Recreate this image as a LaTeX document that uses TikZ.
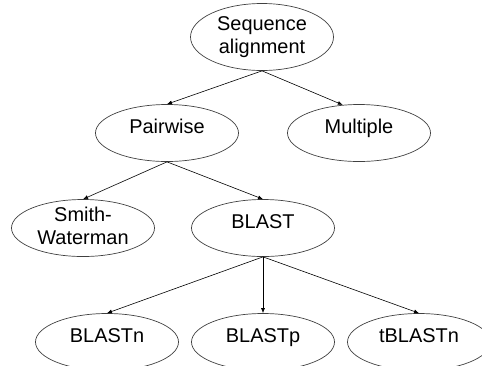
\documentclass[tikz,border=0pt]{standalone}
\usepackage{fontspec}
\setmainfont{Liberation Sans}
\usetikzlibrary{shapes.geometric,arrows.meta}
\tikzset{
  topic/.style={ellipse,draw=black!75,line width=0.7pt,minimum width=143bp,minimum height=57bp,
    inner sep=0pt,align=center,text height=1ex,text depth=1ex,
    font=\fontsize{20}{23}\selectfont},
  twoline/.style={text height=32bp,text depth=-26bp},
  link/.style={-{Latex[length=5pt,width=4pt]},line width=0.6pt}
}
\begin{document}
\begin{tikzpicture}[x=1bp,y=-1bp]
    \useasboundingbox (0,0) rectangle (482,365);
    \clip (0,0) rectangle (482,365);

    % ellipses
    \node[topic,twoline,minimum height=67bp] (seq) at (262,37) {Sequence\\alignment};
    \node[topic] (pair) at (167,133) {Pairwise};
    \node[topic] (mult) at (359,133) {Multiple};
    \node[topic,twoline] (sw) at (83,228) {Smith-\\Waterman};
    \node[topic] (blast) at (263,228) {BLAST};
    \node[topic] (bn) at (107,342) {BLASTn};
    \node[topic] (bp) at (263,342) {BLASTp};
    \node[topic] (tbn) at (419,342) {tBLASTn};

    % arrows
    \draw[link] (seq.south) -- (pair.north);
    \draw[link] (seq.south) -- (mult.120);
    \draw[link] (pair.south) -- (sw.north);
    \draw[link] (pair.south) -- (blast.north);
    \draw[link] (blast.south) -- (bn.north);
    \draw[link] (blast.south) -- (bp.north);
    \draw[link] (blast.south) -- (tbn.north);
\end{tikzpicture}
\end{document}
